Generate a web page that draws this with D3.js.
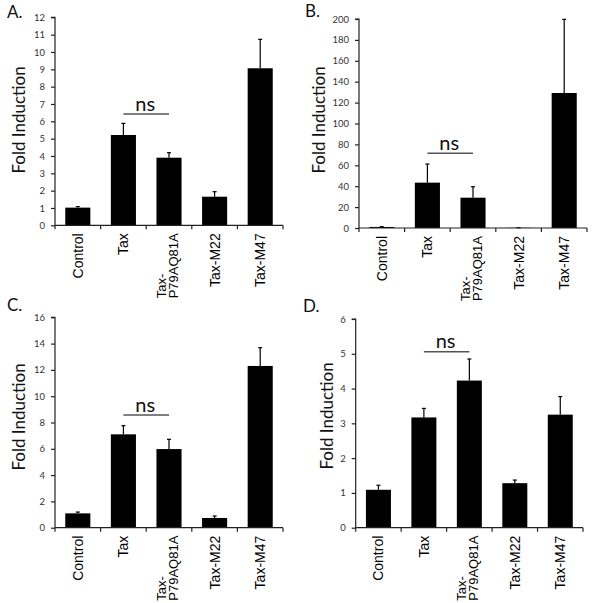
<!DOCTYPE html>
<html>
<head>
<meta charset="utf-8">
<script src="https://cdn.jsdelivr.net/npm/d3@7/dist/d3.min.js"></script>
<style>
  html, body { margin: 0; padding: 0; background: #fff; }
  svg { display: block; }
</style>
</head>
<body>
<svg id="chart" width="600" height="603"></svg>
<script>
// ---------------- DATA ----------------
const categories = ["Control", "Tax", "Tax-\nP79AQ81A", "Tax-M22", "Tax-M47"];

const valuesA = [1.02, 5.21, 3.90, 1.65, 9.06];
const errorsA = [0.06, 0.67, 0.29, 0.29, 1.67];
const ticksA  = [0,1,2,3,4,5,6,7,8,9,10,11,12];

const valuesB = [1.0, 43.4, 29.0, 0.2, 129.2];
const errorsB = [0.3, 17.8, 10.5, 0.1, 70.5];
const ticksB  = [0,20,40,60,80,100,120,140,160,180,200];

const valuesC = [1.09, 7.10, 5.98, 0.74, 12.30];
const errorsC = [0.10, 0.66, 0.74, 0.15, 1.39];
const ticksC  = [0,2,4,6,8,10,12,14,16];

const valuesD = [1.09, 3.17, 4.23, 1.28, 3.25];
const errorsD = [0.13, 0.26, 0.62, 0.09, 0.52];
const ticksD  = [0,1,2,3,4,5,6];

const panelLabels = ["A.", "B.", "C.", "D."];
const yAxisTitle = "Fold Induction";
const sigText = "ns";
const sigLevels = [6.42, 71.5, 8.57, 5.06];   // height of the "ns" bracket, in data units

// ---------------- LAYOUT ----------------
const panels = [
  { label: panelLabels[0], values: valuesA, errors: errorsA, ticks: ticksA, sig: sigLevels[0],
    left: 55, right: 283, top: 17.3, bottom: 225.3, titleX: 25, titleY: 120, lx: 7, ly: 18 },
  { label: panelLabels[1], values: valuesB, errors: errorsB, ticks: ticksB, sig: sigLevels[1],
    left: 359, right: 587, top: 19, bottom: 228, titleX: 325, titleY: 120, lx: 305, ly: 17 },
  { label: panelLabels[2], values: valuesC, errors: errorsC, ticks: ticksC, sig: sigLevels[2],
    left: 55, right: 283, top: 317.3, bottom: 527.7, titleX: 25, titleY: 417, lx: 7, ly: 311 },
  { label: panelLabels[3], values: valuesD, errors: errorsD, ticks: ticksD, sig: sigLevels[3],
    left: 355.7, right: 583, top: 319, bottom: 527.7, titleX: 333, titleY: 416, lx: 303, ly: 312 }
];

const svg = d3.select("#chart");
svg.append("rect").attr("width", 600).attr("height", 603).attr("fill", "#fff");

const axisColor = "#222";
const uiFont = "Lato, 'Open Sans', sans-serif";
const catFont = "'Liberation Sans', Arial, sans-serif";
const catSize = 14;
const catSizeWrapped = 13;
const lineGap = 12;

panels.forEach(p => {
  const g = svg.append("g");
  const x = d3.scaleBand().domain(categories).range([p.left, p.right]).paddingInner(0.45).paddingOuter(0.225);
  const y = d3.scaleLinear().domain([p.ticks[0], p.ticks[p.ticks.length - 1]]).range([p.bottom, p.top]);

  // bars
  g.selectAll("rect.bar").data(categories).join("rect")
    .attr("class", "bar")
    .attr("x", d => x(d))
    .attr("width", x.bandwidth())
    .attr("y", (d, i) => y(p.values[i]))
    .attr("height", (d, i) => y(0) - y(p.values[i]))
    .attr("fill", "#000");

  // error bars (upper only)
  const eb = g.selectAll("g.err").data(categories).join("g").attr("class", "err");
  eb.append("line")
    .attr("x1", d => x(d) + x.bandwidth() / 2)
    .attr("x2", d => x(d) + x.bandwidth() / 2)
    .attr("y1", (d, i) => y(p.values[i]))
    .attr("y2", (d, i) => y(p.values[i] + p.errors[i]))
    .attr("stroke", "#000").attr("stroke-width", 1.2);
  eb.append("line")
    .attr("x1", d => x(d) + x.bandwidth() / 2 - 2)
    .attr("x2", d => x(d) + x.bandwidth() / 2 + 2)
    .attr("y1", (d, i) => y(p.values[i] + p.errors[i]))
    .attr("y2", (d, i) => y(p.values[i] + p.errors[i]))
    .attr("stroke", "#000").attr("stroke-width", 1.2);

  // y axis
  const yAxis = d3.axisLeft(y).tickValues(p.ticks).tickSize(4).tickPadding(6).tickFormat(d3.format("d"));
  const ya = g.append("g").attr("transform", `translate(${p.left},0)`).call(yAxis);
  ya.select(".domain").attr("stroke", axisColor).attr("stroke-width", 1.2).attr("d", `M-4,${y.range()[1]}H0V${y.range()[0]}`);
  ya.selectAll(".tick line").attr("stroke", axisColor).attr("stroke-width", 1.2);
  ya.selectAll(".tick text").attr("font-family", uiFont).attr("font-size", 9.5).attr("fill", "#333");

  // x axis
  const bounds = categories.map(c => x(c) - x.step() * x.paddingInner() / 2).concat([p.right]);
  bounds[0] = p.left;
  g.append("line").attr("x1", p.left).attr("x2", p.right).attr("y1", y(0)).attr("y2", y(0))
    .attr("stroke", axisColor).attr("stroke-width", 1.2);
  g.selectAll("line.xt").data(bounds).join("line").attr("class", "xt")
    .attr("x1", d => d).attr("x2", d => d).attr("y1", y(0)).attr("y2", y(0) + 4)
    .attr("stroke", axisColor).attr("stroke-width", 1.2);

  // category labels (rotated)
  const topY = y(0) + 8;
  categories.forEach(c => {
    const lines = c.split("\n");
    const cx = x(c) + x.bandwidth() / 2;
    const lg = g.append("g");
    const wrapped = lines.length > 1;
    const shift = wrapped ? -2 : 0;
    const bxOf = i => cx + (i - (lines.length - 1) / 2) * lineGap + 5 + shift;
    const texts = lines.map((t, i) => lg.append("text")
        .attr("font-family", catFont).attr("font-size", wrapped ? catSizeWrapped : catSize).attr("fill", "#000")
        .attr("transform", `translate(${bxOf(i)},${topY}) rotate(-90)`)
        .text(t));
    if (!wrapped) {
      texts[0].attr("text-anchor", "end");
    } else {
      const maxLen = d3.max(texts, t => t.node().getComputedTextLength());
      texts.forEach((t, i) => {
        t.attr("text-anchor", "start").attr("transform", `translate(${bxOf(i)},${topY + maxLen}) rotate(-90)`);
      });
    }
  });

  // y title
  g.append("text")
    .attr("transform", `translate(${p.titleX},${p.titleY}) rotate(-90)`)
    .attr("text-anchor", "middle")
    .attr("font-family", uiFont).attr("font-size", 17).attr("fill", "#111")
    .text(yAxisTitle);

  // significance bracket
  const x1 = x(categories[1]) + x.bandwidth() / 2;
  const x2 = x(categories[2]) + x.bandwidth() / 2;
  g.append("line").attr("x1", x1).attr("x2", x2).attr("y1", y(p.sig)).attr("y2", y(p.sig))
    .attr("stroke", "#555").attr("stroke-width", 1.5);
  g.append("text")
    .attr("x", (x1 + x2) / 2 - 1).attr("y", y(p.sig) - 3.3)
    .attr("text-anchor", "middle")
    .attr("font-family", uiFont).attr("font-size", 20).attr("fill", "#111")
    .text(sigText);

  // panel label
  g.append("text").attr("x", p.lx).attr("y", p.ly)
    .attr("font-family", uiFont).attr("font-size", 17).attr("fill", "#111")
    .text(p.label);
});
</script>
</body>
</html>
